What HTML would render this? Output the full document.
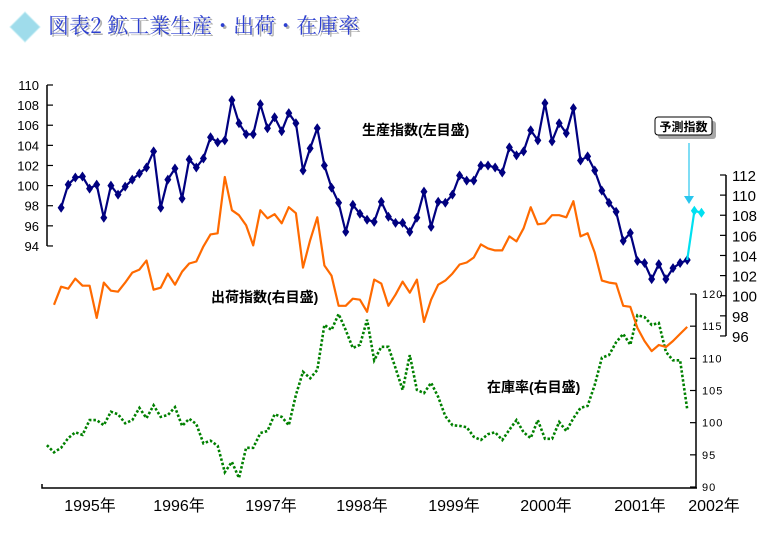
<!DOCTYPE html>
<html><head><meta charset="utf-8"><style>
body{margin:0;background:#fff;}
svg{display:block;font-family:"Liberation Sans","Noto Sans CJK JP",sans-serif;}
</style></head><body>
<svg id="chart" width="780" height="540" viewBox="0 0 780 540" xmlns="http://www.w3.org/2000/svg">
<g>
<polygon points="25,12 40,27 25,42 10,27" fill="#9fdceb" stroke="#c8eef5"/>
<text x="50" y="35" font-size="21" fill="#b0b0b0" font-family="'Noto Serif CJK SC','Liberation Serif',serif">図表2 鉱工業生産・出荷・在庫率</text>
<text x="48" y="33" font-size="21" fill="#2c3fd0" font-family="'Noto Serif CJK SC','Liberation Serif',serif">図表2 鉱工業生産・出荷・在庫率</text>
</g>
<g id="axes"></g>
<g id="series"></g>
<text x="362" y="135" font-size="14" font-weight="bold" fill="#000">生産指数(左目盛)</text>
<text x="211" y="302" font-size="14" font-weight="bold" fill="#000">出荷指数(右目盛)</text>
<text x="487" y="392" font-size="14" font-weight="bold" fill="#000">在庫率(右目盛)</text>
<g>
<rect x="658" y="121" width="58" height="18" rx="3" fill="#a8a8a8"/>
<rect x="655" y="117" width="57" height="18" rx="3" fill="#fff" stroke="#000"/>
<text x="683.5" y="131" font-size="12" font-weight="bold" text-anchor="middle" fill="#000">予測指数</text>
<line x1="689" y1="143" x2="689" y2="197" stroke="#29c6ee" stroke-width="1.2"/>
<polygon points="684,196 694,196 689,204" fill="#29c6ee"/>
</g>
</svg>
<script>
const prodValues=[97.8,100.1,100.8,100.9,99.7,100.1,96.8,100.0,99.1,99.9,100.6,101.2,101.8,103.4,97.8,100.6,101.7,98.7,102.6,101.8,102.7,104.8,104.3,104.5,108.5,106.2,105.1,105.1,108.1,105.7,106.8,105.4,107.2,106.2,101.5,103.7,105.7,102.0,99.8,98.3,95.4,98.1,97.2,96.6,96.4,98.4,96.9,96.3,96.3,95.4,96.8,99.4,95.9,98.4,98.3,99.1,101.0,100.5,100.5,102.0,102.0,101.8,101.3,103.8,103.0,103.4,105.5,104.5,108.2,104.4,106.2,105.2,107.7,102.5,102.9,101.5,99.5,98.3,97.4,94.5,95.3,92.5,92.3,90.7,92.2,90.7,91.8,92.3,92.6];
const forecastValues=[92.6,97.5,97.3];
const shipValues=[99.1,100.9,100.7,101.7,101.0,101.0,97.8,101.3,100.5,100.4,101.3,102.3,102.6,103.5,100.6,100.8,102.2,101.1,102.4,103.2,103.4,104.9,106.1,106.2,111.8,108.5,108.0,107.0,105.0,108.5,107.7,108.1,107.2,108.8,108.2,102.8,105.5,107.8,103.0,102.0,99.0,99.0,99.7,99.6,98.4,101.6,101.2,99.0,100.1,101.4,100.3,101.6,97.4,99.6,101.1,101.5,102.2,103.1,103.3,103.8,105.1,104.7,104.5,104.5,105.9,105.4,106.7,108.8,107.1,107.2,108.0,108.0,107.8,109.4,105.9,106.2,104.3,101.5,101.3,101.2,99.0,98.9,96.8,95.5,94.5,95.1,94.9,95.5,96.2,96.9];
const invValues=[96.5,95.4,96.1,97.6,98.5,98.1,100.4,100.4,99.6,101.7,101.3,99.9,100.4,102.3,100.7,102.7,100.9,101.2,102.4,99.5,100.6,99.8,96.8,97.2,96.4,92.3,93.9,91.4,96.1,96.1,98.4,98.7,101.3,100.9,99.6,104.3,107.9,106.9,108.2,115.2,114.4,116.9,114.4,111.6,112.1,116.0,109.7,111.8,111.8,108.5,105.1,110.5,105.1,104.6,106.2,104.0,101.0,99.6,99.5,99.3,97.8,97.3,98.2,98.5,97.3,98.9,100.4,98.5,97.6,100.4,97.5,97.5,100.1,98.7,100.7,102.3,102.6,105.9,110.1,110.5,112.5,113.8,112.1,116.7,116.4,115.2,115.5,111.0,109.7,109.7,102.0];
const yearLabels=["1995年","1996年","1997年","1998年","1999年","2000年","2001年","2002年"];
const leftTicks=[94,96,98,100,102,104,106,108,110];
const shipTicks=[96,98,100,102,104,106,108,110,112];
const invTicks=[90,95,100,105,110,115,120];

const NS="http://www.w3.org/2000/svg";
const xM=i=>54+i*7.115;
const yL=v=>85+(110-v)*10.06;
const yS=v=>175+(112-v)*10.06;
const yI=v=>487-(v-90)*6.433;
const yearX=[90,179,271,362,454,546,640,714];
function mk(tag,attrs,parent){const e=document.createElementNS(NS,tag);for(const k in attrs)e.setAttribute(k,attrs[k]);parent.appendChild(e);return e;}
const axes=document.getElementById('axes'),ser=document.getElementById('series');

// left axis
let a=mk('line',{x1:47,y1:yL(110),x2:47,y2:yL(94),stroke:'#000','stroke-width':1.5},axes);


leftTicks.forEach(v=>{
 const t=mk('line',{x1:47,x2:53,y1:yL(v),y2:yL(v),stroke:'#000','stroke-width':1.2},axes);
 
 
 const l=mk('text',{x:39,y:yL(v)+5,'font-size':13,'text-anchor':'end',fill:'#000'},axes);l.textContent=v;
 
 
});
// shipments axis
a=mk('line',{x1:726,y1:yS(112),x2:726,y2:yS(96),stroke:'#000','stroke-width':1.5},axes);


shipTicks.forEach(v=>{
 const t=mk('line',{x1:720,x2:726,y1:yS(v),y2:yS(v),stroke:'#000','stroke-width':1.2},axes);
 
 
 const l=mk('text',{x:732,y:yS(v)+6,'font-size':15,fill:'#000'},axes);l.textContent=v;
 
 
});
// inventory axis
a=mk('line',{x1:696,y1:yI(120),x2:696,y2:488,stroke:'#000','stroke-width':1.5},axes);


invTicks.forEach(v=>{
 const t=mk('line',{x1:690,x2:696,y1:yI(v),y2:yI(v),stroke:'#000','stroke-width':1.2},axes);
 
 
 const l=mk('text',{x:702,y:yI(v)+4,'font-size':11,fill:'#000','letter-spacing':'1'},axes);l.textContent=v;
 
 
});
// x axis
a=mk('polyline',{points:'42,484 42,488 697,488',fill:'none',stroke:'#000','stroke-width':1.5},axes);


yearLabels.forEach((s,i)=>{
 const l=mk('text',{x:yearX[i],y:511,'font-size':16,'text-anchor':'middle',fill:'#000'},axes);l.textContent=s;
 
 
});

// inventory
let p=mk('polyline',{points:invValues.map((v,k)=>(xM(k-1)+7.115*0.0-7.1+7.115).toFixed(1)+','+yI(v).toFixed(1)).join(' '),fill:'none',stroke:'#008000','stroke-width':2.6,'stroke-dasharray':'2.5,2'},ser);
p.setAttribute('points',invValues.map((v,k)=>(46.9+7.115*k).toFixed(1)+','+yI(v).toFixed(1)).join(' '));


// shipments
p=mk('polyline',{points:shipValues.map((v,i)=>xM(i).toFixed(1)+','+yS(v).toFixed(1)).join(' '),fill:'none',stroke:'#ff6a00','stroke-width':2.2,'stroke-linejoin':'round'},ser);


// production
p=mk('polyline',{points:prodValues.map((v,i)=>xM(i+1).toFixed(1)+','+yL(v).toFixed(1)).join(' '),fill:'none',stroke:'#000080','stroke-width':2.2},ser);


prodValues.forEach((v,i)=>{
 const x=xM(i+1),y=yL(v);
 const d=mk('polygon',{points:`${x},${y-5} ${x+3.5},${y} ${x},${y+5} ${x-3.5},${y}`,fill:'#000080'},ser);
 
 
});
// forecast
const fs=prodValues.length;
p=mk('polyline',{points:forecastValues.map((v,i)=>xM(fs+i).toFixed(1)+','+yL(v).toFixed(1)).join(' '),fill:'none',stroke:'#00e0f0','stroke-width':2.2},ser);


forecastValues.slice(1).forEach((v,i)=>{
 const x=xM(fs+1+i),y=yL(v);
 const d=mk('polygon',{points:`${x},${y-5} ${x+3.5},${y} ${x},${y+5} ${x-3.5},${y}`,fill:'#00e0f0'},ser);
 
 
});
</script>
</body></html>
